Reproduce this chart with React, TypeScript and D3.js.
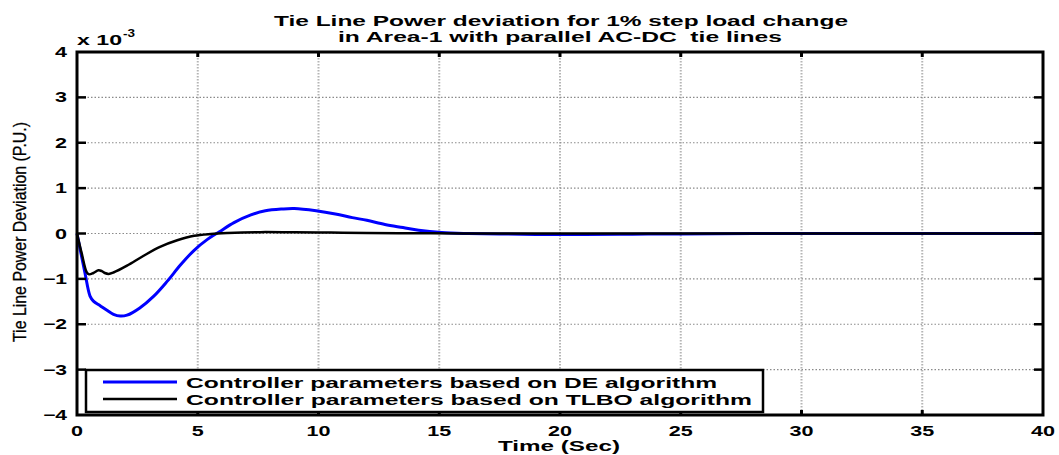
import React from "react";
import * as d3 from "d3";

const titleLines = [
  "Tie Line Power deviation for 1% step load change",
  "in Area-1 with parallel AC-DC  tie lines",
];
const xLabel = "Time (Sec)";
const yLabel = "Tie Line Power Deviation (P.U.)";
const xTicks = [0, 5, 10, 15, 20, 25, 30, 35, 40];
const yTicks = [-4, -3, -2, -1, 0, 1, 2, 3, 4];
const legendLabels = [
  "Controller parameters based on DE algorithm",
  "Controller parameters based on TLBO algorithm",
];

// DE series (x 10^-3)
const deTime = [0, 0.15, 0.33, 0.54, 0.68, 0.96, 1.24, 1.51, 1.79, 2.07, 2.6, 3.18, 3.74, 4.29, 4.85, 5.4, 5.9, 6.5, 7.2, 7.8, 8.5, 9.0, 9.9, 10.7, 11.4, 12.0, 12.75, 13.5, 14.15, 15.1, 16.2, 17.5, 19, 21, 23, 25, 28, 32, 36, 40];
const deValue = [0, -0.4, -0.87, -1.38, -1.49, -1.59, -1.69, -1.78, -1.82, -1.8, -1.64, -1.38, -1.05, -0.69, -0.37, -0.13, 0.04, 0.24, 0.41, 0.5, 0.54, 0.55, 0.5, 0.43, 0.35, 0.29, 0.2, 0.13, 0.07, 0.02, 0, -0.01, -0.02, -0.02, -0.015, -0.01, 0, 0, 0, 0];

// TLBO series (x 10^-3)
const tlboTime = [0, 0.2, 0.4, 0.5, 0.68, 0.89, 1.03, 1.15, 1.31, 1.51, 2.07, 2.76, 3.46, 4.15, 4.85, 5.54, 6.24, 7.6, 9, 10.5, 12, 14, 16, 20, 40];
const tlboValue = [0, -0.45, -0.85, -0.9, -0.87, -0.81, -0.83, -0.87, -0.89, -0.86, -0.71, -0.49, -0.29, -0.15, -0.05, -0.01, 0.01, 0.03, 0.025, 0.02, 0.01, 0.005, 0, 0, 0];

const W = 1059;
const H = 455;
const L = 77, R = 1043, T = 52, B = 415;
const FONT = "'Liberation Sans', Arial, sans-serif";

export default function App() {
  const x = d3.scaleLinear().domain([0, 40]).range([L, R]);
  const y = d3.scaleLinear().domain([-4, 4]).range([B, T]);
  const line = d3
    .line<[number, number]>()
    .x((d) => x(d[0]))
    .y((d) => y(d[1]))
    .curve(d3.curveCatmullRom.alpha(0.5));
  const de: [number, number][] = deTime.map((t, i) => [t, deValue[i]]);
  const tl: [number, number][] = tlboTime.map((t, i) => [t, tlboValue[i]]);

  const tickLen = (s: string) => (s.length === 1 ? 12 : 24);

  return (
    <svg
      width={W}
      height={H}
      style={{ position: "absolute", left: 0, top: 0, background: "#fff" }}
      fontFamily={FONT}
    >
      <rect x={0} y={0} width={W} height={H} fill="#fff" />
      {/* grid */}
      {xTicks.slice(1, -1).map((t) => (
        <line key={"gx" + t} x1={x(t)} x2={x(t)} y1={T} y2={B} stroke="#b5b5b5" strokeWidth={2} strokeDasharray="1.5 1.5" />
      ))}
      {yTicks.slice(1, -1).map((t) => (
        <line key={"gy" + t} x1={L} x2={R} y1={y(t)} y2={y(t)} stroke="#8a8a8a" strokeWidth={1.2} strokeDasharray="1.5 2" />
      ))}
      {/* curves */}
      <path d={line(de) || ""} fill="none" stroke="#0000ff" strokeWidth={3} strokeLinejoin="round" />
      <path d={line(tl) || ""} fill="none" stroke="#000" strokeWidth={2.5} strokeLinejoin="round" />
      {/* ticks */}
      {xTicks.slice(1, -1).map((t) => (
        <g key={"tx" + t}>
          <line x1={x(t)} x2={x(t)} y1={T} y2={T + 5} stroke="#000" strokeWidth={3} />
          <line x1={x(t)} x2={x(t)} y1={B} y2={B - 5} stroke="#000" strokeWidth={3} />
        </g>
      ))}
      {yTicks.slice(1, -1).map((t) => (
        <g key={"ty" + t}>
          <line x1={L} x2={L + 9} y1={y(t)} y2={y(t)} stroke="#000" strokeWidth={2.5} />
          <line x1={R} x2={R - 9} y1={y(t)} y2={y(t)} stroke="#000" strokeWidth={2.5} />
        </g>
      ))}
      {/* legend */}
      <rect x={86} y={370} width={677} height={42} fill="#fff" stroke="#000" strokeWidth={2.5} />
      <line x1={103} x2={177} y1={382} y2={382} stroke="#0000ff" strokeWidth={3} />
      <line x1={103} x2={177} y1={399} y2={399} stroke="#000" strokeWidth={2.5} />
      <text x={186} y={387.5} fontSize={15} fontWeight="bold" textLength={531} lengthAdjust="spacingAndGlyphs">
        {legendLabels[0]}
      </text>
      <text x={186} y={405} fontSize={15} fontWeight="bold" textLength={566} lengthAdjust="spacingAndGlyphs">
        {legendLabels[1]}
      </text>
      {/* frame */}
      <rect x={L} y={T} width={R - L} height={B - T} fill="none" stroke="#000" strokeWidth={3} />
      {/* tick labels */}
      {xTicks.map((t) => {
        const s = String(t);
        return (
          <text key={"lx" + t} x={x(t)} y={436} fontSize={14} fontWeight="bold" textAnchor="middle" textLength={tickLen(s)} lengthAdjust="spacingAndGlyphs">
            {s}
          </text>
        );
      })}
      {yTicks.map((t) => {
        const s = t < 0 ? "\u2212" + Math.abs(t) : String(t);
        return (
          <text key={"ly" + t} x={67} y={y(t) + 5} fontSize={14} fontWeight="bold" textAnchor="end" textLength={tickLen(s)} lengthAdjust="spacingAndGlyphs">
            {s}
          </text>
        );
      })}
      {/* exponent */}
      <text x={77} y={45} fontSize={14} fontWeight="bold" textLength={45} lengthAdjust="spacingAndGlyphs">x 10</text>
      <text x={123} y={37} fontSize={11} fontWeight="bold" textLength={12} lengthAdjust="spacingAndGlyphs">-3</text>
      {/* title */}
      <text x={561} y={26} fontSize={15} fontWeight="bold" textAnchor="middle" textLength={574} lengthAdjust="spacingAndGlyphs" style={{ whiteSpace: "pre" }}>
        {titleLines[0]}
      </text>
      <text x={560} y={41.5} fontSize={15} fontWeight="bold" textAnchor="middle" textLength={444} lengthAdjust="spacingAndGlyphs" style={{ whiteSpace: "pre" }}>
        {titleLines[1]}
      </text>
      {/* axis labels */}
      <text x={559} y={451} fontSize={15} fontWeight="bold" textAnchor="middle" textLength={122} lengthAdjust="spacingAndGlyphs">
        {xLabel}
      </text>
      <text transform={`translate(26,${232}) rotate(-90)`} fontSize={18.5} textAnchor="middle" textLength={220} lengthAdjust="spacingAndGlyphs" stroke="#000" strokeWidth={0.3}>
        {yLabel}
      </text>
    </svg>
  );
}
